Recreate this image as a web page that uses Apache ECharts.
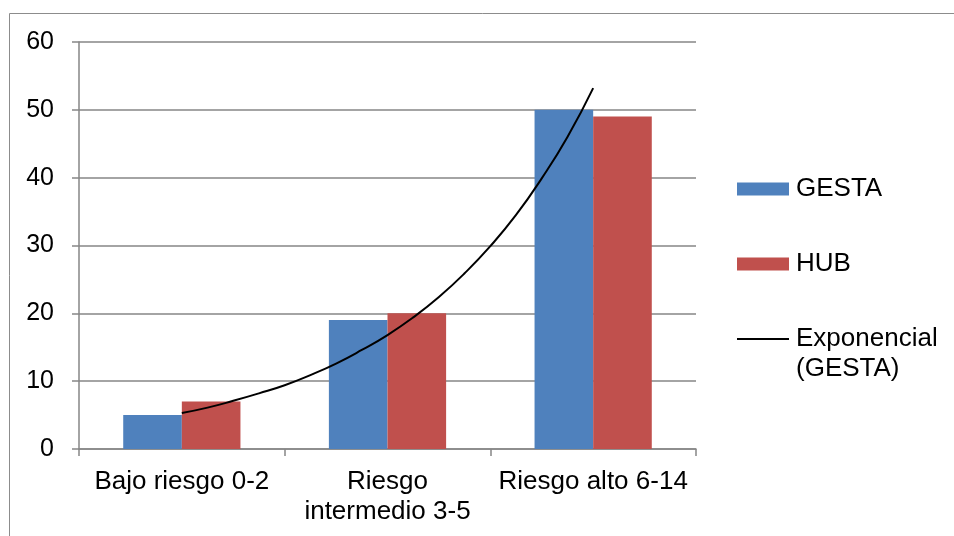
<!DOCTYPE html>
<html>
<head>
<meta charset="utf-8">
<script src="https://cdn.jsdelivr.net/npm/echarts@6/dist/echarts.min.js"></script>
<style>
  html, body { margin: 0; padding: 0; background: #ffffff; }
  #chart { width: 954px; height: 536px; }
</style>
</head>
<body>
<div id="chart"></div>
<script>
// Risk groups on the category axis
const categories = ['Bajo riesgo 0-2', 'Riesgo\nintermedio 3-5', 'Riesgo alto 6-14'];
// Patients per risk group, by score
const gestaValues = [5, 19, 50];
const hubValues = [7, 20, 49];
// Exponential trend of GESTA: [category position (1 = first group), value]
const trendX = [1, 1.125, 1.25, 1.375, 1.5, 1.625, 1.75, 1.875, 2, 2.125, 2.25, 2.375, 2.5, 2.625, 2.75, 2.875, 3];
const trendY = [5.3, 6.1, 7.1, 8.2, 9.4, 10.9, 12.6, 14.6, 16.8, 19.4, 22.4, 25.9, 29.9, 34.5, 39.9, 46.0, 53.2];
// Value axis ticks
const yTicks = [0, 10, 20, 30, 40, 50, 60];

const FONT = '"Liberation Sans", Arial, sans-serif';
const TEXT_SIZE = 26;
const TICK_SIZE = 25;
const GRID_COLOR = '#868686';

const chart = echarts.init(document.getElementById('chart'), null, { renderer: 'canvas' });

chart.setOption({
  animation: false,
  backgroundColor: '#ffffff',
  textStyle: { fontFamily: FONT },
  graphic: [{
    type: 'rect',
    shape: { x: 9.5, y: 13.5, width: 1000, height: 1000 },
    style: { fill: 'none', stroke: '#8c8c8c', lineWidth: 1 },
    silent: true
  }],
  grid: { left: 79, right: 258, top: 42, bottom: 87, containLabel: false },
  legend: [{
    orient: 'vertical',
    left: 737,
    top: 174,
    padding: 0,
    itemWidth: 52,
    itemHeight: 13,
    itemGap: 45,
    textStyle: { fontFamily: FONT, fontSize: TEXT_SIZE, lineHeight: 30, color: '#000000', padding: [0, 0, 0, 2] },
    data: [
      { name: 'GESTA', icon: 'rect' },
      { name: 'HUB', icon: 'rect' }
    ]
  }, {
    orient: 'vertical',
    left: 737,
    top: 294,
    padding: 0,
    itemWidth: 52,
    itemHeight: 13,
    // a blank first line keeps the key level with "Exponencial"
    formatter: name => '\u00a0\n' + name,
    textStyle: { fontFamily: FONT, fontSize: TEXT_SIZE, color: '#000000', lineHeight: 30, padding: [0, 0, 0, 2] },
    data: [{ name: 'Exponencial\n(GESTA)', icon: 'path://M0,5.6L52,5.6L52,7.4L0,7.4Z', itemStyle: { color: '#000000' } }]
  }],
  xAxis: [{
    type: 'category',
    data: categories,
    axisLine: { show: true, lineStyle: { color: GRID_COLOR, width: 1.5 } },
    axisTick: { show: true, length: 7, alignWithLabel: false, lineStyle: { color: GRID_COLOR, width: 1.5 } },
    axisLabel: {
      interval: 0,
      margin: 18,
      fontFamily: FONT,
      fontSize: TEXT_SIZE,
      lineHeight: 30,
      color: '#000000'
    },
    splitLine: { show: false }
  }, {
    type: 'value',
    min: 0.5,
    max: 3.5,
    show: false
  }],
  yAxis: {
    type: 'value',
    min: yTicks[0],
    max: yTicks[yTicks.length - 1],
    interval: 10,
    axisLine: { show: true, lineStyle: { color: GRID_COLOR, width: 1.5 } },
    axisTick: { show: true, length: 7, lineStyle: { color: GRID_COLOR, width: 1.5 } },
    axisLabel: { margin: 25, fontFamily: FONT, fontSize: TICK_SIZE, color: '#000000' },
    splitLine: { show: true, lineStyle: { color: GRID_COLOR, width: 1.5 } }
  },
  series: [{
    name: 'GESTA',
    type: 'bar',
    xAxisIndex: 0,
    data: gestaValues,
    barGap: '0%',
    barCategoryGap: '43%',
    itemStyle: { color: '#4F81BD' }
  }, {
    name: 'HUB',
    type: 'bar',
    xAxisIndex: 0,
    data: hubValues,
    itemStyle: { color: '#C0504D' }
  }, {
    name: 'Exponencial\n(GESTA)',
    type: 'line',
    xAxisIndex: 1,
    data: trendX.map((x, i) => [x, trendY[i]]),
    smooth: true,
    symbol: 'none',
    showSymbol: false,
    lineStyle: { color: '#000000', width: 2 },
    itemStyle: { color: '#000000' },
    z: 5
  }]
});
</script>
</body>
</html>
